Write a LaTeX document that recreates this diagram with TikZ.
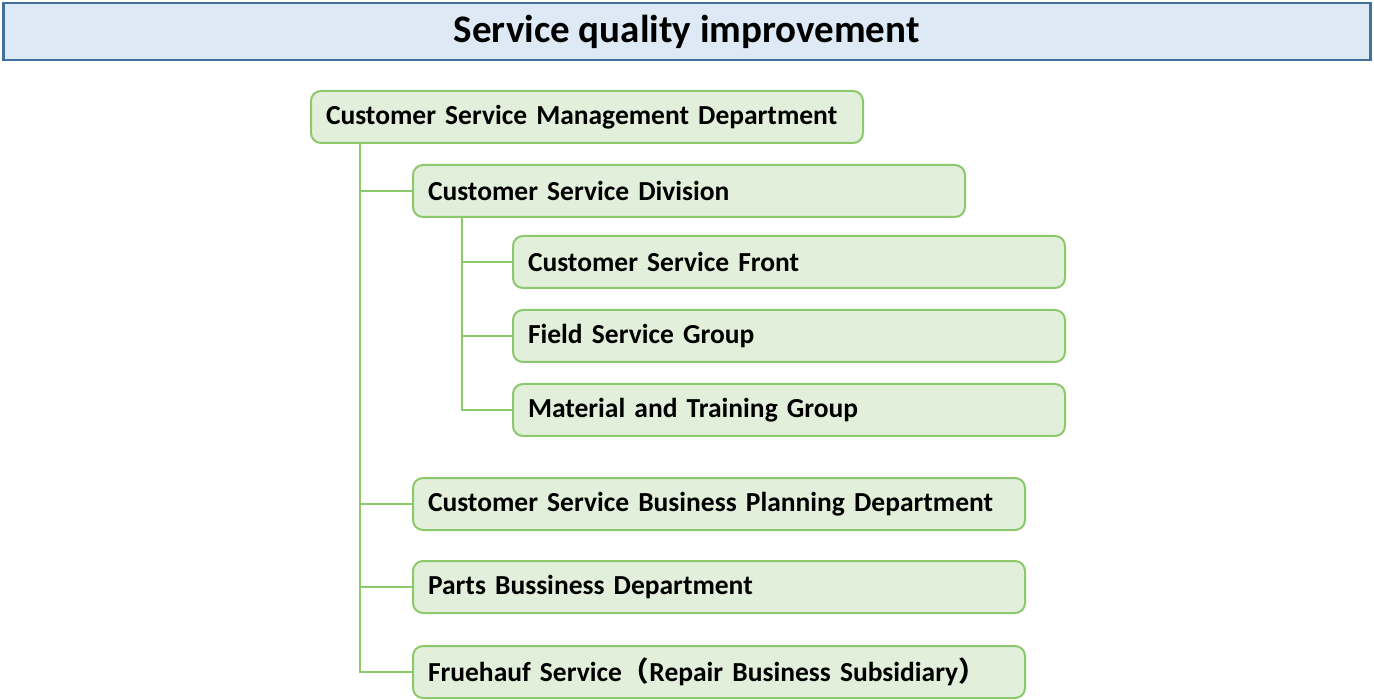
\documentclass[tikz,border=0pt]{standalone}
\usepackage{fontspec}
\setmainfont{Carlito}
\newfontfamily\cjk{Noto Sans CJK JP}
\definecolor{boxfill}{HTML}{E2EFDA}
\definecolor{boxline}{HTML}{8CC86C}
\definecolor{titlefill}{HTML}{DDEAF6}
\definecolor{titleline}{HTML}{41719C}
\tikzset{
  orgbox/.style={draw=boxline, fill=boxfill, line width=2pt, rounded corners=10pt,
    anchor=north west, minimum height=52pt, inner xsep=15pt, inner ysep=0pt,
    text width=#1-30pt, align=left, font=\fontsize{27.5}{32}\selectfont\bfseries},
  conn/.style={draw=boxline, line width=2pt},
}
\begin{document}
\begin{tikzpicture}[x=1pt,y=-1pt]
\useasboundingbox (0,0) rectangle (1374,700);
\node[draw=titleline, fill=titlefill, line width=2.5pt, anchor=north west,
  minimum width=1367pt, minimum height=57pt, inner sep=0pt,
  font=\fontsize{39}{44}\selectfont\bfseries] (title) at (2,2) {Service quality improvement};
\node[orgbox=552pt] (a) at (310,90) {Customer Service Management Department};
\node[orgbox=552pt] (b) at (412,164) {Customer Service Division};
\node[orgbox=552pt] (c) at (512,235) {Customer Service Front};
\node[orgbox=552pt] (d) at (512,309) {Field Service Group};
\node[orgbox=552pt] (e) at (512,383) {Material and Training Group};
\node[orgbox=612pt] (f) at (412,477) {Customer Service Business Planning Department};
\node[orgbox=612pt] (g) at (412,560) {Parts Bussiness Department};
\node[orgbox=612pt] (h) at (412,645) {Fruehauf Service{\cjk （}Repair Business Subsidiary{\cjk ）}};
\coordinate (ta) at ([xshift=50pt]a.south west);
\coordinate (tb) at ([xshift=50pt]b.south west);
\draw[conn] (ta) |- (h.west);
\draw[conn] (ta |- b.west) -- (b.west);
\draw[conn] (ta |- f.west) -- (f.west);
\draw[conn] (ta |- g.west) -- (g.west);
\draw[conn] (tb) |- (e.west);
\draw[conn] (tb |- c.west) -- (c.west);
\draw[conn] (tb |- d.west) -- (d.west);
\end{tikzpicture}
\end{document}
